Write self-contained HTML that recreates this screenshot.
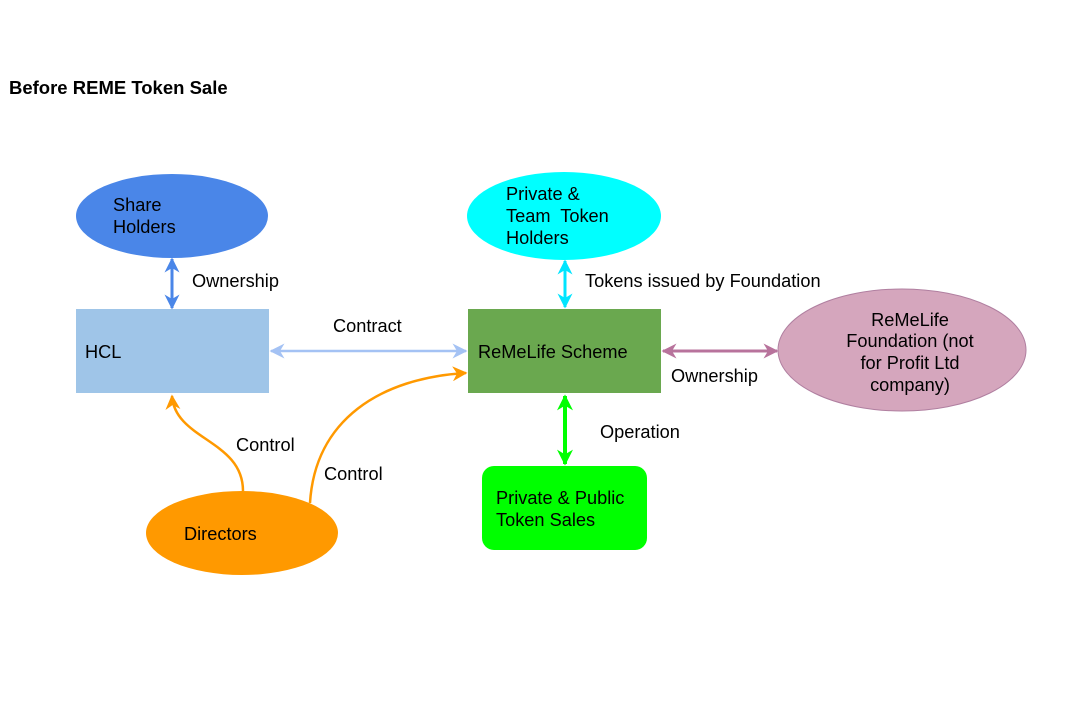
<!DOCTYPE html>
<html><head><meta charset="utf-8"><style>
html,body{margin:0;padding:0;background:#fff;}
svg{display:block;}
text{font-family:"Liberation Sans",Arial,sans-serif;font-size:18.2px;fill:#000;}
</style></head><body>
<svg width="1067" height="722" viewBox="0 0 1067 722" xmlns="http://www.w3.org/2000/svg">
<defs>
<marker id="mb" viewBox="0 0 10 10" refX="9" refY="5" markerWidth="5" markerHeight="5" orient="auto-start-reverse"><path d="M0,0 L10,5 L0,10 L3,5 z" fill="#4a86e8"/></marker>
<marker id="ml" viewBox="0 0 10 10" refX="9" refY="5" markerWidth="6" markerHeight="6" orient="auto-start-reverse"><path d="M0,0 L10,5 L0,10 L3,5 z" fill="#a4c2f4"/></marker>
<marker id="mc" viewBox="0 0 10 10" refX="9" refY="5" markerWidth="5" markerHeight="5" orient="auto-start-reverse"><path d="M0,0 L10,5 L0,10 L3,5 z" fill="#00e5ff"/></marker>
<marker id="mm" viewBox="0 0 10 10" refX="9" refY="5" markerWidth="5" markerHeight="5" orient="auto-start-reverse"><path d="M0,0 L10,5 L0,10 L3,5 z" fill="#b8739c"/></marker>
<marker id="mg" viewBox="0 0 10 10" refX="9" refY="5" markerWidth="4" markerHeight="4" orient="auto-start-reverse"><path d="M0,0 L10,5 L0,10 L3,5 z" fill="#00ff00"/></marker>
<marker id="mo" viewBox="0 0 10 10" refX="9" refY="5" markerWidth="6" markerHeight="6" orient="auto-start-reverse"><path d="M0,0 L10,5 L0,10 L3,5 z" fill="#ff9900"/></marker>
</defs>
<text x="9" y="94" style="font-weight:bold;font-size:18.5px">Before REME Token Sale</text>

<ellipse cx="172" cy="216" rx="96" ry="42" fill="#4a86e8"/>
<text x="113" y="211">Share</text><text x="113" y="233">Holders</text>

<ellipse cx="564" cy="216" rx="97" ry="44" fill="#00ffff"/>
<text x="506" y="200">Private &amp;</text><text x="506" y="222">Team&#160; Token</text><text x="506" y="244">Holders</text>

<rect x="76" y="309" width="193" height="84" fill="#9fc5e8"/>
<text x="85" y="358">HCL</text>

<rect x="468" y="309" width="193" height="84" fill="#6aa84f"/>
<text x="478" y="358">ReMeLife Scheme</text>

<ellipse cx="902" cy="350" rx="124" ry="61" fill="#d5a6bd" stroke="#b07fa0" stroke-width="1"/>
<g text-anchor="middle"><text x="910" y="326">ReMeLife</text><text x="910" y="347">Foundation (not</text><text x="910" y="369">for Profit Ltd</text><text x="910" y="391">company)</text></g>

<ellipse cx="242" cy="533" rx="96" ry="42" fill="#ff9900"/>
<text x="184" y="540">Directors</text>

<rect x="482" y="466" width="165" height="84" rx="12" fill="#00ff00"/>
<text x="496" y="504">Private &amp; Public</text><text x="496" y="526">Token Sales</text>

<line x1="172" y1="259" x2="172" y2="308" stroke="#4a86e8" stroke-width="3" marker-start="url(#mb)" marker-end="url(#mb)"/>
<text x="192" y="287">Ownership</text>

<line x1="271" y1="351" x2="466" y2="351" stroke="#a4c2f4" stroke-width="2.5" marker-start="url(#ml)" marker-end="url(#ml)"/>
<text x="333" y="332">Contract</text>

<line x1="565" y1="261" x2="565" y2="307" stroke="#00e5ff" stroke-width="3" marker-start="url(#mc)" marker-end="url(#mc)"/>
<text x="585" y="287">Tokens issued by Foundation</text>

<line x1="663" y1="351" x2="777" y2="351" stroke="#b8739c" stroke-width="3" marker-start="url(#mm)" marker-end="url(#mm)"/>
<text x="671" y="382">Ownership</text>

<line x1="565" y1="396" x2="565" y2="464" stroke="#00ff00" stroke-width="4" marker-start="url(#mg)" marker-end="url(#mg)"/>
<text x="600" y="438">Operation</text>

<path d="M243,491 C243,440 175,440 172,396" fill="none" stroke="#ff9900" stroke-width="2.5" marker-end="url(#mo)"/>
<text x="236" y="451">Control</text>
<path d="M310,503 C315,420 380,378 466,373" fill="none" stroke="#ff9900" stroke-width="2.5" marker-end="url(#mo)"/>
<text x="324" y="480">Control</text>
</svg>
</body></html>
